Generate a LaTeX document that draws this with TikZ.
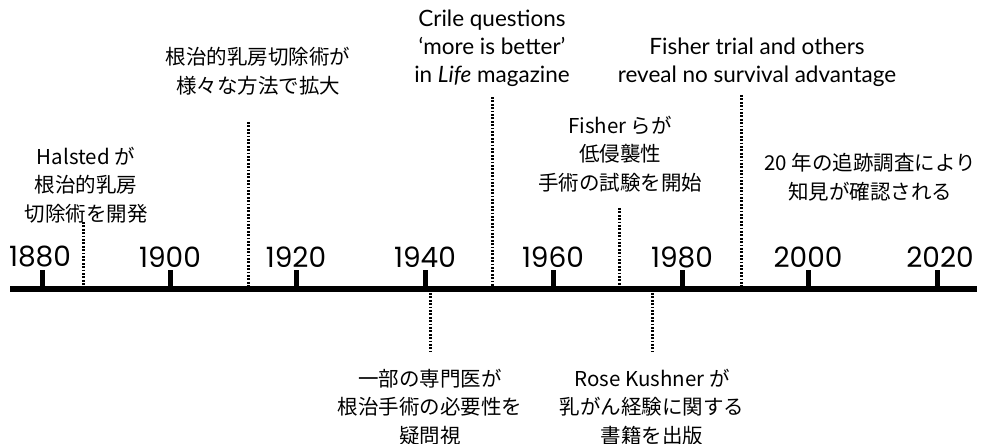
\documentclass[tikz,border=0pt]{standalone}
\usepackage{fontspec}
\newfontfamily\jp{Noto Sans CJK JP}
\newfontfamily\en{Lato}
\newfontfamily\yr{Poppins}
\begin{document}
\begin{tikzpicture}[x=1pt,y=-1pt,
  jptext/.style={font=\jp\fontsize{20.5}{28.5}\selectfont,align=center,inner sep=0pt},
  entext/.style={font=\en\fontsize{22.5}{28}\selectfont,align=center,inner sep=0pt},
  year/.style={font=\yr\fontsize{28}{30}\selectfont,inner sep=0pt},
  axis/.style={line width=6pt,line cap=butt},
  tick/.style={line width=5pt},
  dots/.style={line width=3pt,dash pattern=on 1.8pt off 1.6pt}]
\useasboundingbox (0,0) rectangle (991,444);
% axis
\coordinate (axL) at (10,289);
\coordinate (axR) at (977,289);
\draw[axis] (axL) -- (axR);
% ticks and years
\foreach \x/\y in {42/1880,170/1900,296/1920,425/1940,553/1960,682/1980,808/2000,937/2020}{
  \coordinate (t\y) at (\x,289);
  \coordinate (tt\y) at (\x,270);
  \draw[tick] (t\y) -- (tt\y);
}
\node[year] (y1880) at (40,257) {1880};
\node[year] (y1900) at (170,257) {1900};
\node[year] (y1920) at (296,257) {1920};
\node[year] (y1940) at (425,257) {1940};
\node[year] (y1960) at (553,257) {1960};
\node[year] (y1980) at (682,257) {1980};
\node[year] (y2000) at (808,257) {2000};
\node[year] (y2020) at (940,257) {2020};
% dotted lines
\coordinate (h1) at (83,222);   \coordinate (h2) at (83,286);
\coordinate (r1) at (248,122);  \coordinate (r2) at (248,286);
\coordinate (c1) at (492,97);   \coordinate (c2) at (492,286);
\coordinate (f1) at (619,208);  \coordinate (f2) at (619,286);
\coordinate (ft1) at (741,95);  \coordinate (ft2) at (741,286);
\coordinate (s1) at (430,293);  \coordinate (s2) at (430,352);
\coordinate (k1) at (652,293);  \coordinate (k2) at (652,351);
\draw[dots] (h1) -- (h2);
\draw[dots] (r1) -- (r2);
\draw[dots] (c1) -- (c2);
\draw[dots] (f1) -- (f2);
\draw[dots] (ft1) -- (ft2);
\draw[dots] (s1) -- (s2);
\draw[dots] (k1) -- (k2);
% labels
\node[jptext] (halsted) at (86,185) {Halsted が\\根治的乳房\\切除術を開発};
\node[jptext] (radical) at (258,71) {根治的乳房切除術が\\様々な方法で拡大};
\node[entext] (crile) at (492,48) {Crile questions\\‘more is better’\\in \textit{Life} magazine};
\node[entext] (fishtrial) at (757,62) {Fisher trial and others\\reveal no survival advantage};
\node[jptext] (fisher) at (620,154) {Fisher らが\\低侵襲性\\手術の試験を開始};
\node[jptext] (twenty) at (870,177) {20 年の追跡調査により\\知見が確認される};
\node[jptext] (some) at (430,407) {一部の専門医が\\根治手術の必要性を\\疑問視};
\node[jptext] (rose) at (652,407) {Rose Kushner が\\乳がん経験に関する\\書籍を出版};
\end{tikzpicture}
\end{document}
